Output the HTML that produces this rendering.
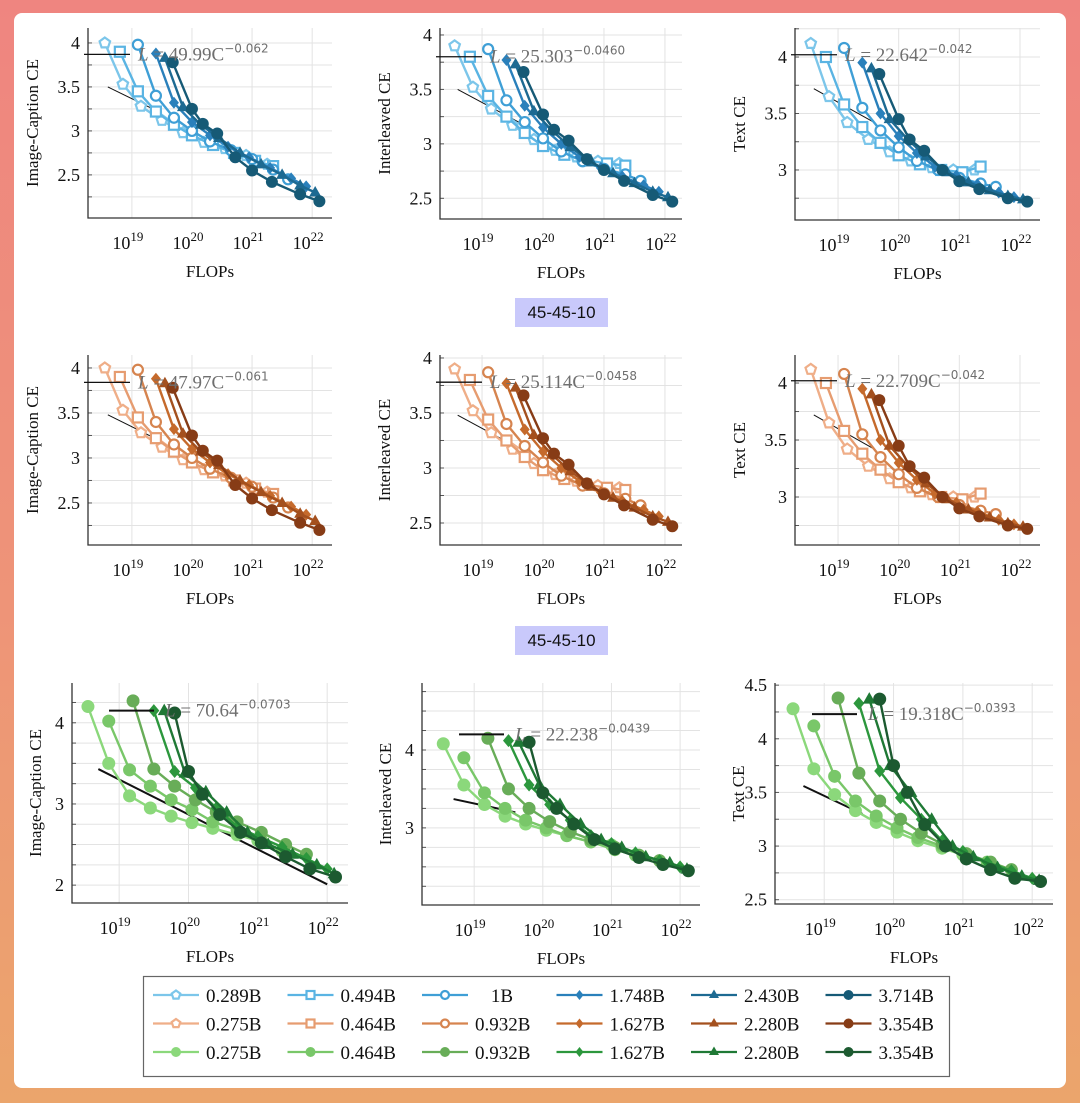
<!DOCTYPE html>
<html><head><meta charset="utf-8">
<style>
html,body{margin:0;padding:0;}
body{width:1080px;height:1103px;background:linear-gradient(180deg,#ef8580 0%,#ee9478 55%,#eba56c 100%);position:relative;overflow:hidden;font-family:"Liberation Serif",serif;}
#card{position:absolute;left:14px;top:13px;width:1052px;height:1075px;background:#fff;border-radius:8px;}
svg{position:absolute;left:0;top:0;}
.tag{position:absolute;left:515px;width:93px;height:29px;background:#c9c9fb;font-family:"Liberation Sans",sans-serif;font-size:17px;line-height:29px;text-align:center;color:#111;}
</style></head>
<body>
<div id="card"></div>
<div class="tag" style="top:298px">45-45-10</div>
<div class="tag" style="top:626px">45-45-10</div>
<svg id="chart" width="1080" height="1103"></svg>
<script>
// FLOPs (log10) per model size, rows 1-2
const flopsA0=[18.55,18.85,19.15,19.5,19.85,20.2,20.55,20.9,21.25];
const flopsA1=[18.8,19.1,19.4,19.7,20.0,20.35,20.7,21.05,21.35];
const flopsA2=[19.1,19.4,19.7,20.0,20.3,20.65,21.0,21.35,21.6];
const flopsA3=[19.4,19.7,20.0,20.3,20.6,20.95,21.3,21.65,21.9];
const flopsA4=[19.55,19.85,20.15,20.45,20.8,21.15,21.5,21.8,22.05];
const flopsA5=[19.68,20.0,20.18,20.42,20.72,21.0,21.33,21.8,22.12];
// row 3
const flopsB0=[18.55,18.85,19.15,19.45,19.75,20.05,20.35,20.7,21.0];
const flopsB1=[18.85,19.15,19.45,19.75,20.05,20.35,20.7,21.05,21.35];
const flopsB2=[19.2,19.5,19.8,20.1,20.4,20.7,21.05,21.4,21.7];
const flopsB3=[19.5,19.8,20.1,20.4,20.7,21.0,21.35,21.7,22.0];
const flopsB4=[19.65,19.95,20.25,20.55,20.85,21.15,21.5,21.85,22.1];
const flopsB5=[19.8,20.0,20.2,20.45,20.75,21.05,21.4,21.75,22.12];
// image-caption loss rows 1-2
const capA0=[4.0,3.53,3.28,3.12,2.98,2.87,2.8,2.72,2.62];
const capA1=[3.9,3.45,3.22,3.07,2.95,2.84,2.75,2.66,2.6];
const capA2=[3.98,3.4,3.15,3.0,2.88,2.78,2.68,2.56,2.45];
const capA3=[3.88,3.32,3.1,2.95,2.82,2.7,2.58,2.46,2.37];
const capA4=[3.83,3.27,3.07,2.92,2.75,2.62,2.5,2.38,2.3];
const capA5=[3.78,3.25,3.08,2.97,2.7,2.55,2.42,2.28,2.2];
// interleaved loss rows 1-2
const intA0=[3.9,3.52,3.32,3.17,3.04,2.94,2.88,2.84,2.82];
const intA1=[3.8,3.44,3.25,3.1,2.98,2.9,2.85,2.82,2.8];
const intA2=[3.87,3.4,3.2,3.05,2.93,2.84,2.77,2.72,2.66];
const intA3=[3.77,3.35,3.15,3.0,2.88,2.78,2.7,2.62,2.56];
const intA4=[3.73,3.3,3.12,2.97,2.83,2.73,2.64,2.56,2.51];
const intA5=[3.66,3.27,3.13,3.03,2.86,2.76,2.66,2.53,2.47];
// text loss rows 1-2
const txtA0=[4.12,3.65,3.42,3.27,3.16,3.08,3.02,3.0,3.0];
const txtA1=[4.0,3.58,3.38,3.24,3.13,3.05,3.0,2.98,3.03];
const txtA2=[4.08,3.55,3.35,3.2,3.08,3.0,2.93,2.88,2.85];
const txtA3=[3.95,3.5,3.3,3.15,3.03,2.95,2.87,2.8,2.76];
const txtA4=[3.9,3.45,3.27,3.12,2.98,2.89,2.82,2.77,2.74];
const txtA5=[3.85,3.45,3.27,3.17,3.0,2.9,2.83,2.75,2.72];
// row 3 losses
const capB0=[4.2,3.5,3.1,2.95,2.85,2.77,2.7,2.62,2.55];
const capB1=[4.02,3.42,3.22,3.05,2.93,2.78,2.68,2.55,2.42];
const capB2=[4.27,3.43,3.22,3.05,2.9,2.78,2.65,2.5,2.38];
const capB3=[4.15,3.4,3.2,2.95,2.72,2.6,2.47,2.33,2.2];
const capB4=[4.15,3.38,3.15,2.9,2.65,2.5,2.38,2.25,2.14];
const capB5=[4.12,3.4,3.12,2.87,2.65,2.52,2.35,2.2,2.1];
const intB0=[4.08,3.55,3.3,3.15,3.05,2.97,2.9,2.82,2.78];
const intB1=[3.9,3.45,3.25,3.1,3.0,2.9,2.82,2.72,2.65];
const intB2=[4.15,3.5,3.25,3.08,2.95,2.85,2.75,2.65,2.58];
const intB3=[4.12,3.55,3.3,3.1,2.9,2.8,2.68,2.58,2.5];
const intB4=[4.1,3.55,3.3,3.05,2.85,2.75,2.63,2.55,2.47];
const intB5=[4.1,3.45,3.25,3.05,2.85,2.73,2.62,2.53,2.45];
const txtB0=[4.28,3.72,3.48,3.33,3.22,3.13,3.05,2.98,2.92];
const txtB1=[4.12,3.65,3.42,3.28,3.17,3.08,3.0,2.9,2.85];
const txtB2=[4.38,3.68,3.42,3.25,3.12,3.02,2.93,2.85,2.78];
const txtB3=[4.33,3.7,3.45,3.25,3.05,2.95,2.85,2.77,2.7];
const txtB4=[4.37,3.75,3.5,3.25,3.0,2.9,2.8,2.72,2.68];
const txtB5=[4.37,3.75,3.5,3.2,3.0,2.88,2.78,2.7,2.67];
const xTickExps=[19,20,21,22];
const legendLabelsA=["0.289B","0.494B","1B","1.748B","2.430B","3.714B"];
const legendLabelsB=["0.275B","0.464B","0.932B","1.627B","2.280B","3.354B"];

const NS="http://www.w3.org/2000/svg";
const svg=document.getElementById('chart');
function mk(tag,attrs,parent){const e=document.createElementNS(NS,tag);for(const k in attrs)e.setAttribute(k,attrs[k]);(parent||svg).appendChild(e);return e;}

const blues=["#7cc6ea","#5ab4e3","#3f9fd6","#2a80bb","#1d6a92","#165a76"];
const oranges=["#efae88","#e69c70","#d6844f","#c56a2c","#a4501e","#873c16"];
const greens=["#8bd87b","#79c769","#68ad58","#2c973d","#1f7935","#1c5a30"];
const markersAB=["pent","square","circ","diam","tri","dot"];
const markersC=["dot","dot","dot","diam","tri","dot"];

function marker(g,type,x,y,c,r){
  r=r||5.5;
  if(type==="pent"){let p=[];for(let i=0;i<5;i++){const a=-Math.PI/2+i*2*Math.PI/5;p.push((x+r*Math.cos(a)).toFixed(1)+","+(y+r*Math.sin(a)).toFixed(1));}
    return mk('polygon',{points:p.join(' '),fill:'#fff',stroke:c,'stroke-width':2.2},g);}
  if(type==="square")return mk('rect',{x:x-r+0.5,y:y-r+0.5,width:2*r-1,height:2*r-1,fill:'#fff',stroke:c,'stroke-width':2.2},g);
  if(type==="circ")return mk('circle',{cx:x,cy:y,r:r-0.5,fill:'#fff',stroke:c,'stroke-width':2.2},g);
  if(type==="diam")return mk('polygon',{points:`${x},${y-r-0.5} ${x+r-0.5},${y} ${x},${y+r+0.5} ${x-r+0.5},${y}`,fill:c},g);
  if(type==="tri")return mk('polygon',{points:`${x},${y-r-1} ${x+r+0.5},${y+r-1.5} ${x-r-0.5},${y+r-1.5}`,fill:c},g);
  return mk('circle',{cx:x,cy:y,r:r+0.5,fill:c},g);
}

const panels=[
 {l:88,t:28,r:332,b:218,x0:18.27,x1:22.33,y0:2.01,y1:4.17,yt:[2.5,3,3.5,4],ylab:"Image-Caption CE",fx:[flopsA0,flopsA1,flopsA2,flopsA3,flopsA4,flopsA5],ly:[capA0,capA1,capA2,capA3,capA4,capA5],col:blues,mk:markersAB,fit:"49.99C",ex:"−0.062",fy:3.87,fl:[[18.6,3.5],[19.5,3.2]],thin:true},
 {l:440,t:28,r:682,b:219,x0:18.31,x1:22.28,y0:2.31,y1:4.064,yt:[2.5,3,3.5,4],ylab:"Interleaved CE",fx:[flopsA0,flopsA1,flopsA2,flopsA3,flopsA4,flopsA5],ly:[intA0,intA1,intA2,intA3,intA4,intA5],col:blues,mk:markersAB,fit:"25.303",ex:"−0.0460",fy:3.8,fl:[[18.6,3.5],[19.6,3.2]],thin:true},
 {l:795,t:28,r:1040,b:220,x0:18.29,x1:22.33,y0:2.557,y1:4.257,yt:[3,3.5,4],ylab:"Text CE",fx:[flopsA0,flopsA1,flopsA2,flopsA3,flopsA4,flopsA5],ly:[txtA0,txtA1,txtA2,txtA3,txtA4,txtA5],col:blues,mk:markersAB,fit:"22.642",ex:"−0.042",fy:4.02,fl:[[18.6,3.72],[19.6,3.42]],thin:true},
 {l:88,t:355,r:332,b:545,x0:18.27,x1:22.33,y0:2.033,y1:4.144,yt:[2.5,3,3.5,4],ylab:"Image-Caption CE",fx:[flopsA0,flopsA1,flopsA2,flopsA3,flopsA4,flopsA5],ly:[capA0,capA1,capA2,capA3,capA4,capA5],col:oranges,mk:markersAB,fit:"47.97C",ex:"−0.061",fy:3.84,fl:[[18.6,3.48],[19.5,3.18]],thin:true},
 {l:440,t:355,r:682,b:545,x0:18.31,x1:22.28,y0:2.3,y1:4.027,yt:[2.5,3,3.5,4],ylab:"Interleaved CE",fx:[flopsA0,flopsA1,flopsA2,flopsA3,flopsA4,flopsA5],ly:[intA0,intA1,intA2,intA3,intA4,intA5],col:oranges,mk:markersAB,fit:"25.114C",ex:"−0.0458",fy:3.78,fl:[[18.6,3.48],[19.6,3.18]],thin:true},
 {l:795,t:355,r:1040,b:545,x0:18.29,x1:22.33,y0:2.579,y1:4.246,yt:[3,3.5,4],ylab:"Text CE",fx:[flopsA0,flopsA1,flopsA2,flopsA3,flopsA4,flopsA5],ly:[txtA0,txtA1,txtA2,txtA3,txtA4,txtA5],col:oranges,mk:markersAB,fit:"22.709C",ex:"−0.042",fy:4.02,fl:[[18.6,3.72],[19.6,3.42]],thin:true},
 {l:72,t:683,r:348,b:903,x0:18.32,x1:22.3,y0:1.78,y1:4.49,yt:[2,3,4],ylab:"Image-Caption CE",fx:[flopsB0,flopsB1,flopsB2,flopsB3,flopsB4,flopsB5],ly:[capB0,capB1,capB2,capB3,capB4,capB5],col:greens,mk:markersC,fit:"70.64",ex:"−0.0703",fy:4.15,fl:[[18.7,3.43],[22.0,2.01]],thin:false},
 {l:422,t:683,r:700,b:905,x0:18.24,x1:22.29,y0:2.01,y1:4.86,yt:[3,4],ylab:"Interleaved CE",fx:[flopsB0,flopsB1,flopsB2,flopsB3,flopsB4,flopsB5],ly:[intB0,intB1,intB2,intB3,intB4,intB5],col:greens,mk:markersC,fit:"22.238",ex:"−0.0439",fy:4.2,fl:[[18.7,3.37],[19.6,3.2]],thin:false},
 {l:775,t:683,r:1053,b:904,x0:18.29,x1:22.3,y0:2.46,y1:4.52,yt:[2.5,3,3.5,4,4.5],ylab:"Text CE",fx:[flopsB0,flopsB1,flopsB2,flopsB3,flopsB4,flopsB5],ly:[txtB0,txtB1,txtB2,txtB3,txtB4,txtB5],col:greens,mk:markersC,fit:"19.318C",ex:"−0.0393",fy:4.23,fl:[[18.7,3.56],[19.55,3.3]],thin:false}
];

panels.forEach((p,pi)=>{
  const g=mk('g',{});
  
  
  const X=v=>p.l+(v-p.x0)/(p.x1-p.x0)*(p.r-p.l);
  const Y=v=>p.b-(v-p.y0)/(p.y1-p.y0)*(p.b-p.t);
  for(let v=Math.ceil(p.y0*4)/4;v<=p.y1;v+=0.25){
    const gl=mk('line',{x1:p.l,x2:p.r,y1:Y(v),y2:Y(v),stroke:'#e3e3e3','stroke-width':1},g);
    
    
    mk('line',{x1:p.l,x2:p.l+4,y1:Y(v),y2:Y(v),stroke:'#555','stroke-width':1},g);
  }
  xTickExps.forEach(e=>{
    const gl=mk('line',{x1:X(e),x2:X(e),y1:p.t,y2:p.b,stroke:'#e3e3e3','stroke-width':1},g);
    
    
    const t=mk('text',{x:X(e)-4,y:p.b+31,'text-anchor':'middle','font-size':18,fill:'#111'},g);
    
    
    t.innerHTML='10<tspan dy="-8" font-size="13">'+e+'</tspan>';
  });
  p.yt.forEach(v=>{
    const t=mk('text',{x:p.l-8,y:Y(v)+6,'text-anchor':'end','font-size':18,fill:'#111'},g);
    
    
    t.textContent=String(v);
  });
  mk('polyline',{points:`${p.l},${p.t} ${p.l},${p.b} ${p.r},${p.b}`,fill:'none',stroke:'#333','stroke-width':1.3},g);
  const xl=mk('text',{x:(p.l+p.r)/2,y:p.b+59,'text-anchor':'middle','font-size':17,fill:'#111'},g);
  
  
  xl.textContent='FLOPs';
  const yc=(p.t+p.b)/2, yx=pi>=6?p.l-31:p.l-50;
  const yl=mk('text',{x:yx,y:yc,'text-anchor':'middle','font-size':17,fill:'#111',transform:`rotate(-90 ${yx} ${yc})`},g);
  
  
  yl.textContent=p.ylab;
  const fl=mk('line',{x1:X(p.fl[0][0]),y1:Y(p.fl[0][1]),x2:X(p.fl[1][0]),y2:Y(p.fl[1][1]),stroke:'#111','stroke-width':p.thin?1:2},g);
  
  
  p.fx.forEach((xs,si)=>{
    const sg=mk('g',{},g);
    
    
    const ys=p.ly[si];
    const pts=xs.map((x,i)=>X(x).toFixed(1)+','+Y(ys[i]).toFixed(1)).join(' ');
    const pl=mk('polyline',{points:pts,fill:'none',stroke:p.col[si],'stroke-width':2.4},sg);
    
    
    xs.forEach((x,i)=>{
      const m=marker(sg,p.mk[si],X(x),Y(ys[i]),p.col[si],pi>=6?6:5.5);
      
      
    });
  });
  const fy=Y(p.fy);
  mk('line',{x1:p.thin?p.l-4:p.l+37,x2:p.thin?p.l+42:p.l+82,y1:fy,y2:fy,stroke:'#111','stroke-width':p.thin?1.3:2},g);
  const ft=mk('text',{x:p.thin?p.l+50:p.l+93,y:fy+6,'font-size':19,fill:'#6f6f6f'},g);
  
  
  ft.innerHTML='<tspan font-style="italic">L</tspan> = '+p.fit+'<tspan dy="-8" font-size="12" font-family="DejaVu Sans, sans-serif">'+p.ex+'</tspan>';
});

const lg=mk('g',{});


mk('rect',{x:143.5,y:976.5,width:806,height:100,fill:'#fff',stroke:'#666','stroke-width':1.2},lg);
const rowsDef=[[legendLabelsA,blues,markersAB],[legendLabelsB,oranges,markersAB],[legendLabelsB,greens,markersC]];
rowsDef.forEach((rd,ri)=>{
  rd[0].forEach((lab,ci)=>{
    const x=153+ci*134.5, y=995+ri*28.5;
    const e=mk('g',{},lg);
    
    
    mk('line',{x1:x,x2:x+46,y1:y,y2:y,stroke:rd[1][ci],'stroke-width':2.2},e);
    marker(e,rd[2][ci],x+23,y,rd[1][ci],4.5);
    const t=mk('text',{x:(lab==="1B")?x+80:x+53,y:y+7,'font-size':19,fill:'#111','text-anchor':(lab==="1B")?'middle':'start'},e);
    t.textContent=lab;
  });
});
</script>
</body></html>
